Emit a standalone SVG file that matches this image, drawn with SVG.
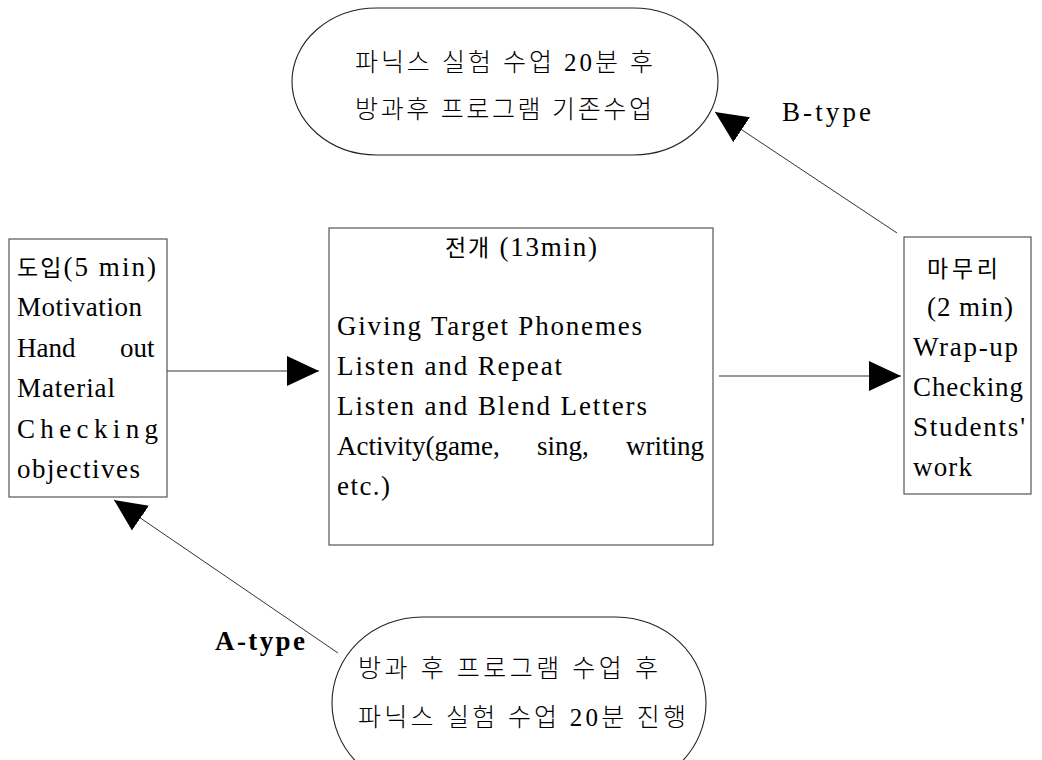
<svg xmlns="http://www.w3.org/2000/svg" width="1042" height="760" viewBox="0 0 1042 760">
<style>
text{font-family:"Liberation Serif","Noto Sans CJK KR",serif;font-size:27px;fill:#000}
.ko{font-family:"Noto Sans CJK KR","Liberation Serif",sans-serif;font-size:23px}
.st{font-size:25px;font-weight:300}
.box{fill:#fff;stroke:#555;stroke-width:1.2}
.oval{fill:#fff;stroke:#222;stroke-width:1.1}
.conn{stroke:#333;stroke-width:1;fill:none;marker-end:url(#ah)}
</style>
<defs>
<marker id="ah" markerUnits="userSpaceOnUse" markerWidth="32" markerHeight="30" refX="32" refY="15" orient="auto" viewBox="0 0 32 30">
<path d="M0,0 L32,15 L0,30 Z" fill="#000"/>
</marker>
</defs>
<rect width="1042" height="760" fill="#fff"/>
<g id="connectors">
<line class="conn" x1="167" y1="371" x2="319" y2="371"/>
<line class="conn" x1="719" y1="376" x2="901" y2="376"/>
<line class="conn" x1="897" y1="233" x2="715" y2="112"/>
<line class="conn" x1="338" y1="653" x2="114" y2="500"/>
</g>
<g id="node-btype-oval">
<rect class="oval" x="292" y="8" width="426" height="147" rx="85" ry="73.5"/>
<text class="st" x="355" y="71" textLength="298" lengthAdjust="spacing">파닉스 실험 수업 20분 후</text>
<text class="st" x="355" y="118" textLength="297" lengthAdjust="spacing">방과후 프로그램 기존수업</text>
</g>
<g id="node-atype-oval">
<rect class="oval" x="332" y="617" width="374" height="172" rx="90" ry="86"/>
<text class="st" x="358" y="677" textLength="300" lengthAdjust="spacing">방과 후 프로그램 수업 후</text>
<text class="st" x="358" y="726" textLength="328" lengthAdjust="spacing">파닉스 실험 수업 20분 진행</text>
</g>
<g id="node-intro">
<rect class="box" x="9" y="239" width="158" height="258"/>
<text x="17" y="276" textLength="139" lengthAdjust="spacing"><tspan class="ko">도입</tspan>(5 min)</text>
<text x="17" y="316" textLength="125" lengthAdjust="spacing">Motivation</text>
<text y="357"><tspan x="17">Hand</tspan><tspan x="120">out</tspan></text>
<text x="17" y="397" textLength="98" lengthAdjust="spacing">Material</text>
<text x="17" y="438" textLength="141" lengthAdjust="spacing">Checking</text>
<text x="17" y="478" textLength="123" lengthAdjust="spacing">objectives</text>
</g>
<g id="node-development">
<rect class="box" x="329" y="228" width="384" height="317"/>
<text x="445" y="256" textLength="152" lengthAdjust="spacing"><tspan class="ko">전개</tspan> (13min)</text>
<text x="337" y="335" textLength="305" lengthAdjust="spacing">Giving Target Phonemes</text>
<text x="337" y="375" textLength="225" lengthAdjust="spacing">Listen and Repeat</text>
<text x="337" y="415" textLength="310" lengthAdjust="spacing">Listen and Blend Letters</text>
<text y="455"><tspan x="337">Activity(game,</tspan><tspan x="537">sing,</tspan><tspan x="626">writing</tspan></text>
<text x="337" y="495" textLength="53" lengthAdjust="spacing">etc.)</text>
</g>
<g id="node-wrapup">
<rect class="box" x="904" y="237" width="127" height="257"/>
<text class="ko" x="927" y="277" textLength="71" lengthAdjust="spacing">마무리</text>
<text x="927" y="316" textLength="86" lengthAdjust="spacing">(2 min)</text>
<text x="913" y="356" textLength="105" lengthAdjust="spacing">Wrap-up</text>
<text x="913" y="396" textLength="110" lengthAdjust="spacing">Checking</text>
<text x="913" y="436" textLength="112" lengthAdjust="spacing">Students'</text>
<text x="913" y="476" textLength="59" lengthAdjust="spacing">work</text>
</g>
<g id="labels">
<text x="782" y="121" textLength="89" lengthAdjust="spacing">B-type</text>
<text x="215" y="650" textLength="90" lengthAdjust="spacing" font-weight="bold">A-type</text>
</g>
</svg>
